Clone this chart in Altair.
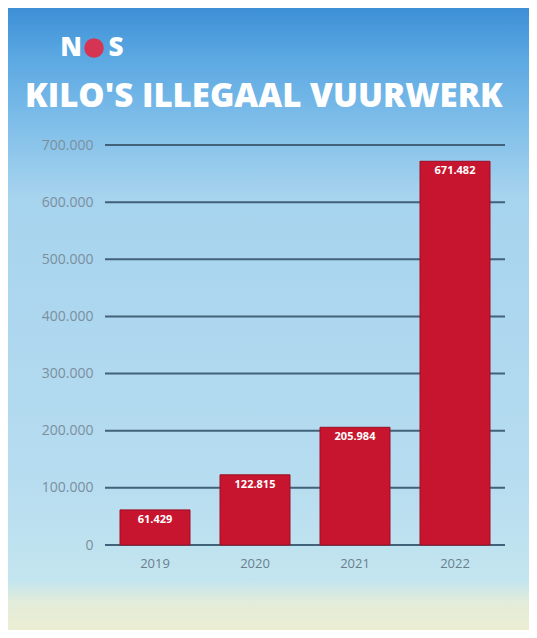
import altair as alt
import pandas as pd

years = ["2019", "2020", "2021", "2022"]
kilos = [61429, 122815, 205984, 671482]
labels = ["61.429", "122.815", "205.984", "671.482"]
y_ticks = [0, 100000, 200000, 300000, 400000, 500000, 600000, 700000]

df = pd.DataFrame({"jaar": years, "kilo": kilos, "label": labels})
grid_df = pd.DataFrame({"kilo": y_ticks})

bg_gradient = alt.Gradient(
    gradient="linear", x1=0, x2=0, y1=0, y2=1,
    stops=[
        alt.GradientStop(color="#3d8fd6", offset=0),
        alt.GradientStop(color="#5ba8e2", offset=0.08),
        alt.GradientStop(color="#7dbde9", offset=0.18),
        alt.GradientStop(color="#a6d3ee", offset=0.3),
        alt.GradientStop(color="#b6dcf0", offset=0.75),
        alt.GradientStop(color="#c3e5ef", offset=0.92),
        alt.GradientStop(color="#e2ecda", offset=0.955),
        alt.GradientStop(color="#eceed2", offset=1),
    ],
)

bg = alt.Chart(alt.Data(values=[{"a": 1}])).mark_rect(fill=bg_gradient).encode(
    x=alt.value(-97), x2=alt.value(424), y=alt.value(-137), y2=alt.value(485)
)

y_scale = alt.Scale(domain=[0, 700000])

grid = alt.Chart(grid_df).mark_rule(color="#42627a", strokeWidth=2).encode(
    y=alt.Y("kilo:Q", scale=y_scale)
)

x_enc = alt.X("jaar:N", title=None, sort=years,
              scale=alt.Scale(paddingInner=0.3, paddingOuter=0.15),
              axis=alt.Axis(labelAngle=0, labelFontSize=13, labelColor="#6a7f8e",
                            labelFont="Open Sans", domain=False, ticks=False,
                            labelPadding=12, zindex=1))
y_enc = alt.Y("kilo:Q", title=None, scale=y_scale,
              axis=alt.Axis(values=y_ticks, labelFontSize=14, labelColor="#7b8f9d",
                            labelFont="Open Sans", domain=False, ticks=False,
                            labelPadding=12, grid=False, zindex=1,
                            labelExpr="replace(format(datum.value, ','), ',', '.')"))

base = alt.Chart(df)

bars = base.mark_bar(color="#c8152f", stroke="#9c0f25", strokeWidth=1).encode(
    x=x_enc, y=y_enc
)

text = base.mark_text(color="white", fontWeight="bold", fontSize=11, baseline="top",
                      dy=4, font="Open Sans").encode(
    x=alt.X("jaar:N", sort=years), y="kilo:Q", text="label:N"
)

nos_n = alt.Chart(alt.Data(values=[{"t": "N"}])).mark_text(
    color="white", fontSize=26, fontWeight=900, font="Open Sans", align="center"
).encode(x=alt.value(-34), y=alt.value(-97), text="t:N")
nos_o = alt.Chart(alt.Data(values=[{"t": "O"}])).mark_point(
    filled=True, color="#d53552", size=380, opacity=1
).encode(x=alt.value(-11), y=alt.value(-97))
nos_s = alt.Chart(alt.Data(values=[{"t": "S"}])).mark_text(
    color="white", fontSize=26, fontWeight=900, font="Open Sans", align="center"
).encode(x=alt.value(11), y=alt.value(-97), text="t:N")

chart = alt.layer(bg, grid, bars, text, nos_n, nos_o, nos_s).properties(
    width=400, height=400,
    title=alt.TitleParams("KILO'S ILLEGAAL VUURWERK", anchor="start", fontSize=33,
                          fontWeight=900, font="Open Sans", color="white",
                          offset=-106, dx=-80, frame="group"),
    padding={"left": 97, "top": 137, "right": 24, "bottom": 85},
    autosize=alt.AutoSizeParams(type="none"),
).configure_view(stroke=None).configure(background="#b8ddf0")

chart.save("out.html", embed_options={"renderer": "svg", "actions": False})
